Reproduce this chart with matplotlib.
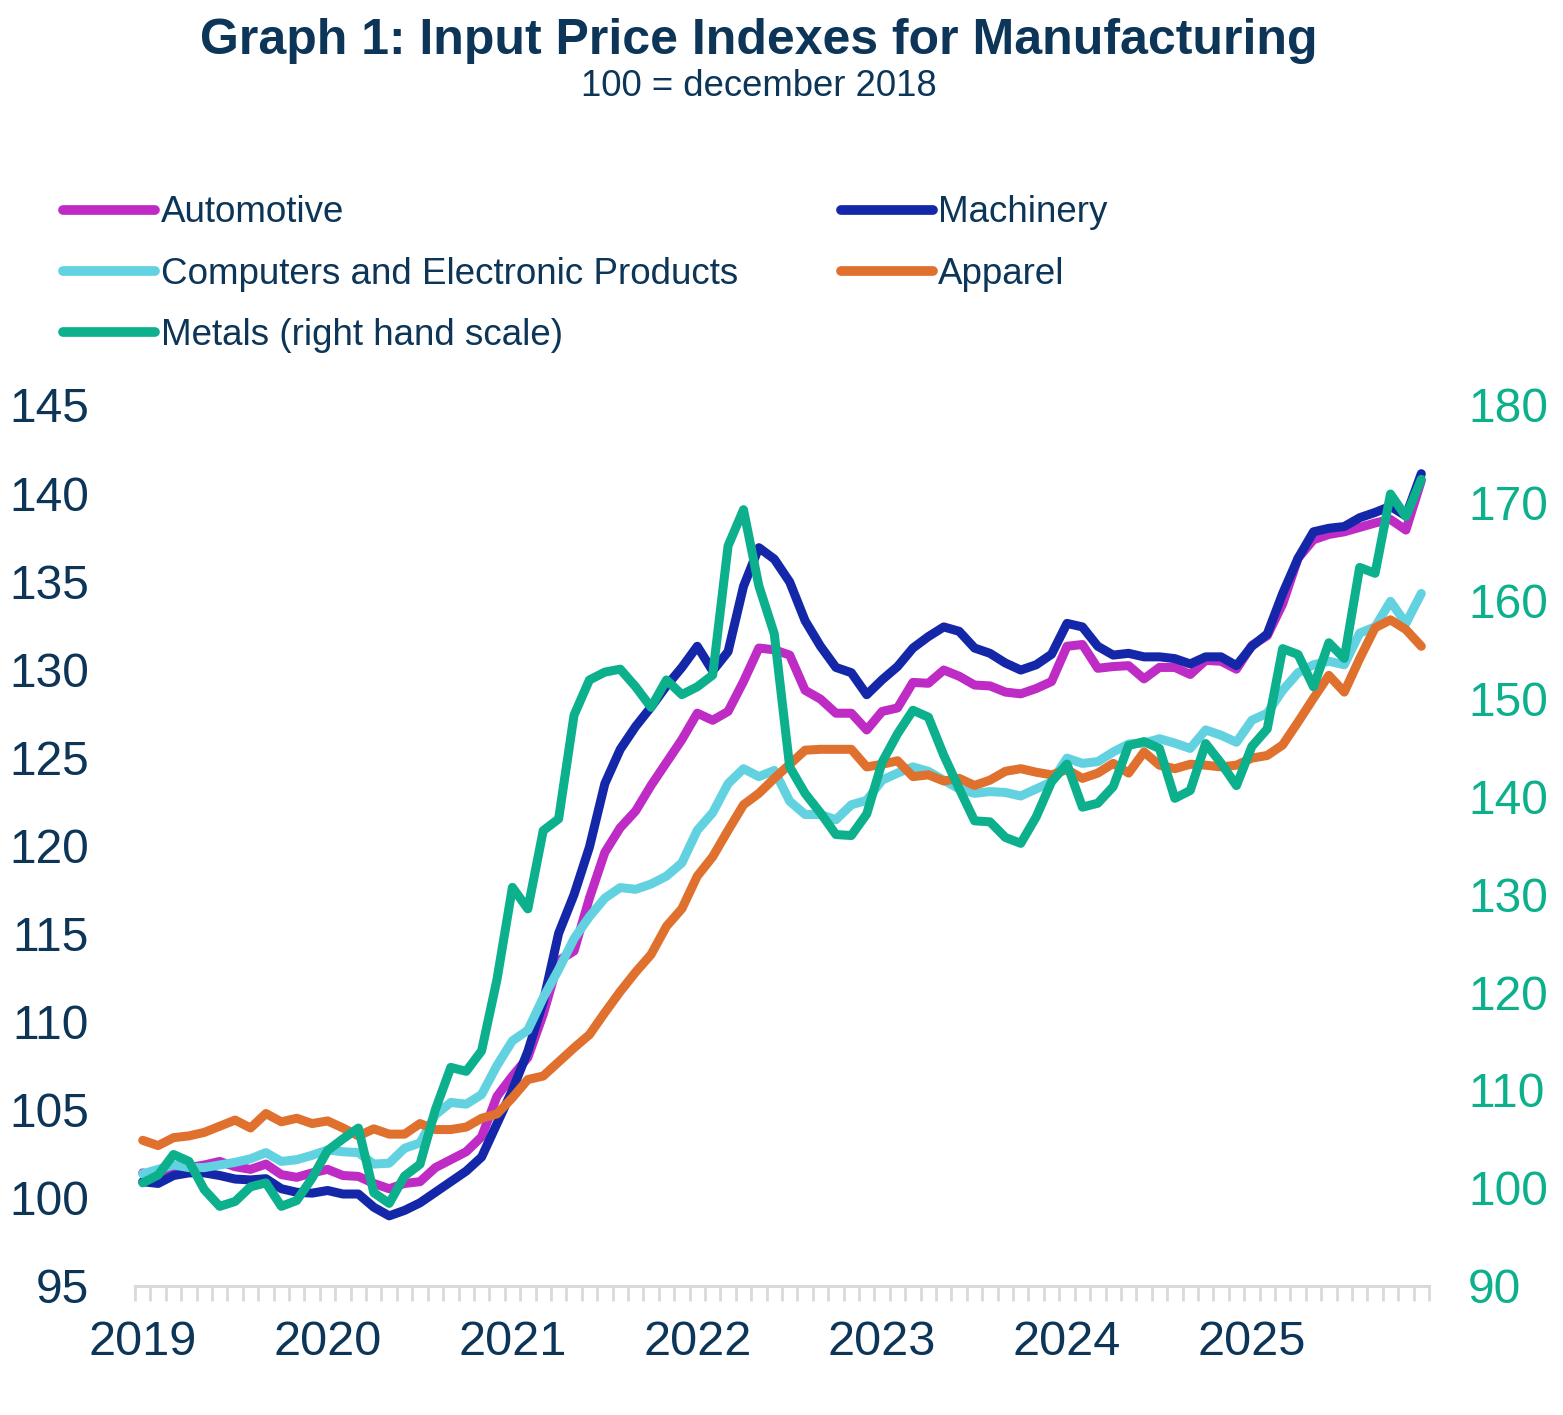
import numpy as np
import matplotlib.pyplot as plt
from matplotlib.lines import Line2D

plt.rcParams['font.family'] = ['Liberation Sans', 'DejaVu Sans']

# monthly, jan 2019 .. dec 2025
years = ['2019', '2020', '2021', '2022', '2023', '2024', '2025']

automotive = [
    101.4, 101.2, 101.55, 101.7, 101.85, 102.05, 101.75, 101.6, 101.9, 101.3, 101.15, 101.4,
    101.6, 101.25, 101.2, 100.8, 100.5, 100.8, 100.9, 101.7, 102.15, 102.6, 103.45, 105.75,
    106.9, 107.95, 110.4, 113.45, 114.0, 117.0, 119.6, 121.0, 121.95, 123.4, 124.7, 126.0,
    127.5, 127.1, 127.6, 129.3, 131.2, 131.1, 130.8, 128.8, 128.3, 127.5, 127.5, 126.55,
    127.6, 127.8, 129.25, 129.2, 129.95, 129.6, 129.1, 129.05, 128.7, 128.6, 128.9, 129.3,
    131.3, 131.4, 130.05, 130.15, 130.2, 129.45, 130.1, 130.1, 129.7, 130.5, 130.45, 130.0,
    131.35, 131.9, 133.7, 136.3, 137.35, 137.65, 137.8, 138.05, 138.3, 138.5, 137.9, 140.7]

machinery = [
    100.9, 100.8, 101.25, 101.4, 101.4, 101.25, 101.05, 101.0, 101.07, 100.5, 100.3, 100.25,
    100.4, 100.2, 100.2, 99.45, 98.96, 99.27, 99.7, 100.3, 100.9, 101.5, 102.3, 104.2,
    106.1, 108.3, 111.1, 115.0, 117.2, 119.9, 123.5, 125.45, 126.75, 127.85, 129.05, 130.1,
    131.3, 129.9, 131.0, 134.7, 136.9, 136.25, 134.95, 132.75, 131.3, 130.1, 129.8, 128.55,
    129.4, 130.15, 131.2, 131.85, 132.4, 132.15, 131.2, 130.9, 130.35, 129.95, 130.25, 130.85,
    132.6, 132.4, 131.3, 130.8, 130.9, 130.7, 130.7, 130.6, 130.3, 130.7, 130.7, 130.2,
    131.3, 132.0, 134.3, 136.3, 137.8, 138.0, 138.1, 138.6, 138.9, 139.25, 138.7, 141.1]

computers = [
    101.35, 101.6, 101.85, 101.7, 101.7, 101.85, 102.0, 102.2, 102.55, 102.05, 102.15, 102.4,
    102.7, 102.6, 102.55, 101.9, 101.95, 102.8, 103.1, 104.7, 105.4, 105.3, 105.85, 107.5,
    108.9, 109.5, 111.35, 112.95, 114.7, 115.95, 117.0, 117.6, 117.5, 117.8, 118.25, 119.0,
    120.85, 121.85, 123.5, 124.35, 123.9, 124.25, 122.5, 121.75, 121.75, 121.45, 122.3, 122.55,
    123.7, 124.1, 124.45, 124.2, 123.7, 123.2, 122.95, 123.05, 123.0, 122.8, 123.2, 123.6,
    124.95, 124.65, 124.75, 125.3, 125.75, 125.8, 126.05, 125.8, 125.5, 126.55, 126.25, 125.85,
    127.1, 127.5, 128.8, 129.8, 130.25, 130.45, 130.25, 132.05, 132.4, 133.85, 132.6, 134.3]

apparel = [
    103.25, 102.95, 103.4, 103.5, 103.7, 104.05, 104.4, 103.95, 104.77, 104.3, 104.5, 104.2,
    104.35, 103.95, 103.5, 103.9, 103.6, 103.6, 104.2, 103.86, 103.86, 104.0, 104.5, 104.75,
    105.67, 106.7, 106.9, 107.7, 108.5, 109.25, 110.5, 111.7, 112.8, 113.8, 115.4, 116.4,
    118.25, 119.35, 120.85, 122.3, 122.95, 123.8, 124.6, 125.4, 125.45, 125.45, 125.45, 124.45,
    124.6, 124.8, 123.9, 124.0, 123.65, 123.8, 123.4, 123.7, 124.2, 124.35, 124.15, 124.0,
    124.3, 123.8, 124.1, 124.65, 124.1, 125.3, 124.55, 124.35, 124.6, 124.55, 124.45, 124.55,
    124.95, 125.1, 125.7, 127.0, 128.35, 129.65, 128.7, 130.6, 132.35, 132.8, 132.25, 131.3]

metals = [
    100.5, 101.3, 103.4, 102.7, 99.8, 98.1, 98.6, 100.1, 100.5, 98.1, 98.7, 101.0,
    103.8, 105.0, 106.1, 99.5, 98.4, 101.2, 102.4, 108.0, 112.3, 111.9, 114.0, 121.3,
    130.7, 128.5, 136.5, 137.7, 148.3, 151.9, 152.7, 153.0, 151.2, 149.1, 151.9, 150.4,
    151.2, 152.4, 165.6, 169.3, 161.5, 156.6, 143.0, 140.3, 138.3, 136.1, 136.0, 138.2,
    143.5, 146.4, 148.8, 148.1, 144.2, 140.8, 137.5, 137.4, 135.8, 135.2, 137.9, 141.5,
    143.3, 138.9, 139.3, 141.0, 145.2, 145.6, 144.9, 139.8, 140.6, 145.4, 143.4, 141.1,
    145.1, 146.9, 155.1, 154.5, 151.2, 155.7, 154.1, 163.4, 162.8, 170.9, 168.6, 172.4]

navy = '#0c3558'
c_auto = '#be2bc5'
c_mach = '#1427a8'
c_comp = '#62d2e0'
c_app = '#e0702e'
c_met = '#0db08c'
grid_grey = '#d9d9d9'
lw = 6.5

W, H = 1563, 1415
fig = plt.figure(figsize=(W / 100, H / 100), dpi=100)
ax = fig.add_axes([135 / W, 1 - 1285.6 / H, (1429 - 135) / W, (1285.6 - 405) / H])
ax2 = ax.twinx()

x = np.arange(len(automotive))
kw = dict(lw=lw, solid_capstyle='round', solid_joinstyle='round')
ax.plot(x, automotive, color=c_auto, **kw)
ax.plot(x, machinery, color=c_mach, **kw)
ax.plot(x, computers, color=c_comp, **kw)
ax.plot(x, apparel, color=c_app, **kw)
ax2.plot(x, metals, color=c_met, **kw)

ax.set_xlim(-0.5, len(x) - 0.5)
ax.set_ylim(95, 145)
ax2.set_ylim(90, 180)
ax.set_yticks(np.arange(95, 146, 5))
ax2.set_yticks(np.arange(90, 181, 10))

ax.set_xticks(np.arange(0, len(x), 12))
ax.set_xticklabels(years)
ax.set_xticks(np.arange(-0.5, len(x), 1), minor=True)
ax.tick_params(axis='x', which='major', length=0, pad=25, labelsize=35, labelcolor=navy)
ax.tick_params(axis='x', which='minor', length=11, width=2, color=grid_grey)
ax.tick_params(axis='y', length=0, pad=33, labelsize=34.5, labelcolor=navy)
ax2.tick_params(axis='y', length=0, pad=28, labelsize=34.5, labelcolor=c_met)

for a in (ax, ax2):
    for s in ('top', 'left', 'right', 'bottom'):
        a.spines[s].set_visible(False)
ax.spines['bottom'].set_visible(True)
ax.spines['bottom'].set_color(grid_grey)
ax.spines['bottom'].set_linewidth(2.2)

fig.text(759 / W, 1 - 41 / H, 'Graph 1: Input Price Indexes for Manufacturing',
         ha='center', va='center', fontsize=36, fontweight='bold', color=navy)
fig.text(759 / W, 1 - 87 / H, '100 = december 2018',
         ha='center', va='center', fontsize=26.3, color=navy)

handles = [Line2D([], [], color=c, lw=7, solid_capstyle='round')
           for c in (c_auto, c_comp, c_met, c_mach, c_app)]
labels = ['Automotive', 'Computers and Electronic Products', 'Metals (right hand scale)',
          'Machinery', 'Apparel']
fig.legend(handles, labels, loc='upper left', bbox_to_anchor=(63 / W, 1 - 195.5 / H),
           ncol=2, frameon=False, fontsize=26.5, labelcolor=navy, handlelength=2.5,
           handletextpad=0.15, columnspacing=2.8, labelspacing=0.71, borderpad=0,
           borderaxespad=0)

fig.savefig('out.png', dpi=100)
